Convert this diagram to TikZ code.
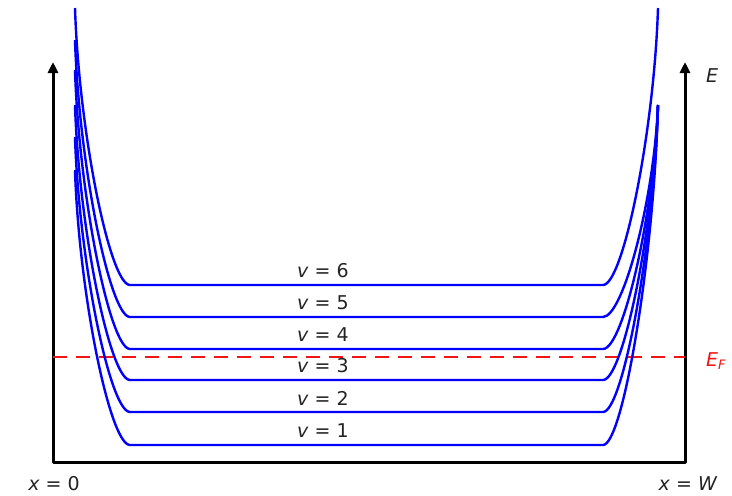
\documentclass[tikz,border=0pt]{standalone}
\usepackage{fontspec}
\setmainfont{DejaVu Sans}
\usetikzlibrary{arrows.meta}
\definecolor{wellBlue}{RGB}{0,0,255}
\definecolor{fermiRed}{RGB}{240,20,20}
\definecolor{labelGray}{RGB}{35,35,35}

\begin{document}
\begin{tikzpicture}[x=1pt, y=-1pt, line join=round,
    axis/.style={line width=3pt, {Triangle[length=11pt,width=10pt]}-{Triangle[length=11pt,width=10pt]}},
    level/.style={wellBlue, line width=2.4pt},
    fermi/.style={fermiRed, line width=2.8pt, dash pattern=on 14pt off 9pt},
    lbl/.style={text=labelGray, font=\fontsize{19}{21}\selectfont, inner sep=1pt}]
  \useasboundingbox (0,0) rectangle (732,496);
  % axes
  \coordinate (ltop) at (53,62);
  \coordinate (o) at (53,462);
  \coordinate (w) at (685,462);
  \coordinate (rtop) at (685,62);
  \draw[axis] (ltop) -- (o) -- (w) -- (rtop);
  % Fermi level
  \coordinate (efl) at (53,357);
  \coordinate (efr) at (685,357);
  \draw[fermi] (efl) -- (efr);
  % subbands
  \foreach \v/\lvl/\lt/\rt in {1/445/170/105, 2/412/137/105, 3/380/105/105,
                               4/349/70/105, 5/317/40/105, 6/285/8/8} {
    \draw[level] (75,\lt) .. controls (79,{\lvl-0.55*(\lvl-\lt)}) and (110,\lvl) .. (130,\lvl)
      -- (603,\lvl) .. controls (623,\lvl) and (654,{\lvl-0.55*(\lvl-\rt)}) .. (658,\rt);
    \node[lbl] (v\v) at (323,\lvl-14) {\textit{v} = \v};
  }
  % labels
  \node[lbl] (e) at (712,76) {\textit{E}};
  \node[lbl, text=fermiRed] (ef) at (716,361) {\textit{E}\raisebox{-0.35ex}{\fontsize{13}{14}\selectfont\textit{F}}};
  \node[lbl] (x0) at (54,484) {\textit{x} = 0};
  \node[lbl] (xw) at (688,484) {\textit{x} = \textit{W}};
\end{tikzpicture}
\end{document}
